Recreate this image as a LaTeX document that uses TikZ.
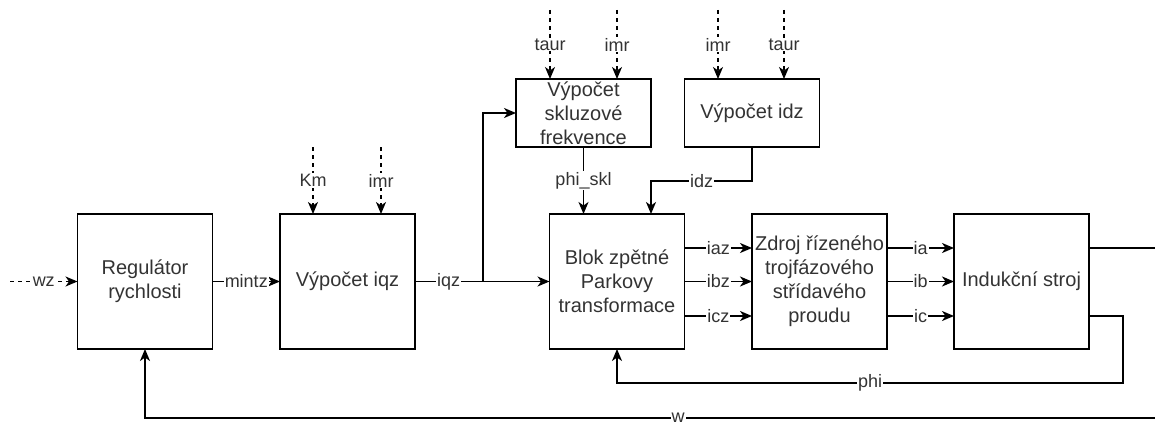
\documentclass[tikz,border=0pt]{standalone}
\usepackage{fontspec}
\setmainfont{Liberation Sans}
\usetikzlibrary{arrows.meta}
\definecolor{txt}{HTML}{333333}
\begin{document}
\begin{tikzpicture}[x=1pt,y=-1pt,
  blk/.style={draw=black, line width=1.8pt, rectangle, inner sep=0pt, outer sep=0pt,
    minimum width=135pt, minimum height=135pt, align=center, text=txt,
    font=\fontsize{20}{24}\selectfont},
  sblk/.style={blk, minimum height=68pt},
  arr/.style={draw=black, line width=1.8pt, -{Stealth[length=12pt,width=10pt,inset=3.5pt]}},
  ln/.style={draw=black, line width=1.8pt},
  darr/.style={arr, line width=1.2pt, dash pattern=on 4pt off 4pt},
  lbl/.style={fill=white, inner sep=1pt, text=txt, font=\fontsize{18}{21}\selectfont}
]
\useasboundingbox (0,0) rectangle (1155,425);
% blocks
\node[blk] (reg) at (145,281.5) {Regulátor\\rychlosti};
\node[blk] (iqzb) at (347.5,281.5) {Výpočet iqz};
\node[blk] (park) at (617,281.5) {Blok zpětné\\Parkovy\\transformace};
\node[blk] (zdroj) at (819.5,281.5) {Zdroj řízeného\\trojfázového\\střídavého\\proudu};
\node[blk] (ind) at (1021.5,281.5) {Indukční stroj};
\node[sblk] (skl) at (583.5,113) {Výpočet\\skluzové\\frekvence};
\node[sblk] (idzb) at (752,113) {Výpočet idz};
% coordinates of free ends
\coordinate (wzs) at (10,281.5);
\coordinate (kmS) at (313,147);
\coordinate (imrS) at (381,147);
\coordinate (taurA) at (550,10);
\coordinate (imrA) at (617,10);
\coordinate (imrB) at (718,10);
\coordinate (taurB) at (784,10);
\coordinate (br) at (483,281.5);
\coordinate (outR) at (1160,248);
\coordinate (wS) at (1211,418);
% inputs
\draw[darr] (wzs) -- node[lbl]{wz} (reg.west);
\draw[darr] (kmS) -- node[lbl]{Km} (kmS |- iqzb.north);
\draw[darr] (imrS) -- node[lbl]{imr} (imrS |- iqzb.north);
\draw[darr] (taurA) -- node[lbl]{taur} (taurA |- skl.north);
\draw[darr] (imrA) -- node[lbl]{imr} (imrA |- skl.north);
\draw[darr] (imrB) -- node[lbl]{imr} (imrB |- idzb.north);
\draw[darr] (taurB) -- node[lbl]{taur} (taurB |- idzb.north);
% main chain
\draw[arr] (reg.east) -- node[lbl]{mintz} (iqzb.west);
\draw[arr] (iqzb.east) -- node[lbl,pos=0.25]{iqz} (park.west);
\draw[arr] (br) |- (skl.west);
\draw[arr] (skl.south) -- node[lbl]{phi\_skl} (skl.south |- park.north);
\draw[arr] (idzb.south) -- ++(0,34) -| node[lbl,pos=0.25]{idz} ([xshift=34pt]park.north);
\draw[arr] ([yshift=33.5pt]park.east) -- node[lbl]{iaz} ([yshift=33.5pt]zdroj.west);
\draw[arr] (park.east) -- node[lbl]{ibz} (zdroj.west);
\draw[arr] ([yshift=-34.5pt]park.east) -- node[lbl]{icz} ([yshift=-34.5pt]zdroj.west);
\draw[arr] ([yshift=33.5pt]zdroj.east) -- node[lbl]{ia} ([yshift=33.5pt]ind.west);
\draw[arr] (zdroj.east) -- node[lbl]{ib} (ind.west);
\draw[arr] ([yshift=-34.5pt]zdroj.east) -- node[lbl]{ic} ([yshift=-34.5pt]ind.west);
\draw[ln] ([yshift=33.5pt]ind.east) -- (outR);
\draw[arr] ([yshift=-34.5pt]ind.east) -- ++(34,0) -- ++(0,67) -| node[lbl,pos=0.25]{phi} (park.south);
\draw[arr] (wS) -| node[lbl,pos=0.25]{w} (reg.south);
\end{tikzpicture}
\end{document}
